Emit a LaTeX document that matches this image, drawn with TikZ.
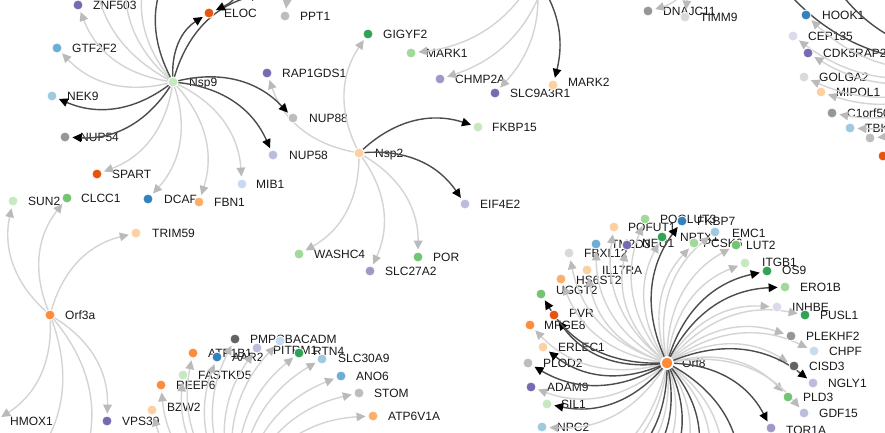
\documentclass[tikz,border=0pt]{standalone}
\usepackage{fontspec}
\setmainfont{Liberation Sans}
\usetikzlibrary{arrows.meta,calc}
\pgfdeclarelayer{back}
\pgfdeclarelayer{lab}
\pgfdeclarelayer{bg}
\pgfsetlayers{back,lab,bg,main}
\definecolor{pu1}{HTML}{756BB1}\definecolor{pu2}{HTML}{9E9AC8}\definecolor{pu3}{HTML}{BCBDDC}\definecolor{pu4}{HTML}{DADAEB}
\definecolor{bl1}{HTML}{3182BD}\definecolor{bl2}{HTML}{6BAED6}\definecolor{bl3}{HTML}{9ECAE1}\definecolor{bl4}{HTML}{C6DBEF}
\definecolor{or1}{HTML}{E6550D}\definecolor{or2}{HTML}{FD8D3C}\definecolor{or3}{HTML}{FDAE6B}\definecolor{or4}{HTML}{FDD0A2}
\definecolor{gr1}{HTML}{31A354}\definecolor{gr2}{HTML}{74C476}\definecolor{gr3}{HTML}{A1D99B}\definecolor{gr4}{HTML}{C7E9C0}
\definecolor{gy1}{HTML}{636363}\definecolor{gy2}{HTML}{969696}\definecolor{gy3}{HTML}{BDBDBD}\definecolor{gy4}{HTML}{D9D9D9}
\definecolor{edgegray}{HTML}{D4D4D4}\definecolor{arrgray}{HTML}{BABABA}\definecolor{edgeblack}{HTML}{4C4C4C}
\newcommand\gn[7]{\node[dot,fill=#4] (#1) at (#2,#3) {};\begin{pgfonlayer}{lab}\node[lbl] (#1-l) at (#6,{#7+4.3}) {#5};\end{pgfonlayer}}
\begin{document}
\begin{tikzpicture}[x=1pt,y=-1pt,
  dot/.style={circle,minimum size=10pt,inner sep=0pt,draw=white,line width=0.8pt},
  hub/.style={dot,minimum size=12pt,line width=1.5pt},
  lbl/.style={anchor=base west,inner sep=0pt,font=\fontsize{12}{14}\selectfont,text=black!90},
  ge/.style={draw=edgegray,line width=1.4pt,-{Triangle[length=9pt,width=8.5pt,color=arrgray]},shorten >=2pt,bend left=30},
  ke/.style={draw=edgeblack,line width=1.4pt,-{Triangle[length=9pt,width=8.5pt,color=black]},shorten >=2pt,bend left=30}]
\useasboundingbox (0,0) rectangle (885,432);
\begin{pgfonlayer}{back}
\fill[white] (0,0) rectangle (885,432);
\end{pgfonlayer}
% off-image end points
\coordinate (n9a) at (95,-40);\coordinate (n9b) at (130,-40);\coordinate (n9c) at (152,-40);
\coordinate (n9d) at (176,-40);\coordinate (n9e) at (262,-6);
\coordinate (topA) at (255,-60);\coordinate (topB) at (545,-45);\coordinate (topC) at (550,-40);
\coordinate (topD) at (530,-50);\coordinate (topE) at (520,-40);\coordinate (topF) at (250,-40);
\coordinate (topG) at (700,-40);\coordinate (topH) at (660,-45);
\coordinate (RH) at (985,60);\coordinate (rk1) at (770,-30);\coordinate (rk2) at (820,-40);
\coordinate (BH) at (240,500);
\coordinate (o3a1) at (25,470);\coordinate (o3a2) at (80,470);
\foreach \i/\x in {1/560,2/580,3/600,4/615,5/630,6/645,7/660,8/675,9/690,10/705,11/720,12/740}{\coordinate (ob\i) at (\x,480);}
% nodes: Nsp9 area
\gn{ZNF503}{78}{5}{pu1}{ZNF503}{93}{5}
\gn{ELOC}{209}{13}{or1}{ELOC}{224}{13}
\gn{GTF2F2}{57}{48}{bl2}{GTF2F2}{72}{48}
\gn{Nsp9}{173}{82}{gr4}{Nsp9}{189}{82}
\gn{RAP1GDS1}{267}{73}{pu1}{RAP1GDS1}{282}{73}
\gn{NEK9}{52}{96}{bl3}{NEK9}{67}{96}
\gn{NUP54}{65}{137}{gy2}{NUP54}{80}{137}
\gn{NUP88}{293}{118}{gy3}{NUP88}{309}{118}
\gn{NUP58}{273}{155}{pu3}{NUP58}{289}{155}
\gn{SPART}{97}{174}{or1}{SPART}{112}{174}
\gn{MIB1}{242}{184}{bl4}{MIB1}{256}{184}
\gn{CLCC1}{67}{198}{gr2}{CLCC1}{81}{198}
\gn{SUN2}{13}{201}{gr4}{SUN2}{28}{201}
\gn{DCAF}{148}{199}{bl1}{DCAF}{164}{199}
\gn{FBN1}{199}{202}{or3}{FBN1}{214}{202}
\gn{TRIM59}{136}{233}{or4}{TRIM59}{152}{233}
\gn{Orf3a}{50}{315}{or2}{Orf3a}{65}{315}
\gn{HMOX1}{-5}{421}{pu2}{HMOX1}{10}{421}
% top
\gn{PPT1}{285}{16}{gy3}{PPT1}{300}{16}
\gn{GIGYF2}{368}{34}{gr1}{GIGYF2}{383}{34}
\gn{MARK1}{411}{53}{gr3}{MARK1}{426}{53}
\gn{CHMP2A}{440}{79}{pu2}{CHMP2A}{455}{79}
\gn{SLC9A3R1}{495}{93}{pu1}{SLC9A3R1}{510}{93}
\gn{MARK2}{553}{85}{or4}{MARK2}{568}{82}
\gn{FKBP15}{478}{127}{gr4}{FKBP15}{492}{127}
\gn{Nsp2}{359}{153}{or4}{Nsp2}{375}{153}
\gn{EIF4E2}{465}{204}{pu3}{EIF4E2}{480}{204}
\gn{WASHC4}{299}{254}{gr3}{WASHC4}{314}{254}
\gn{POR}{418}{257}{gr2}{POR}{433}{257}
\gn{SLC27A2}{370}{271}{pu2}{SLC27A2}{385}{271}
% top right
\gn{DNAJC11}{648}{11}{gy2}{DNAJC11}{663}{11}
\gn{TIMM9}{685}{17}{gy4}{TIMM9}{700}{17}
\gn{HOOK1}{806}{15}{bl1}{HOOK1}{822}{15}
\gn{CEP135}{793}{36}{pu4}{CEP135}{808}{36}
\gn{CDK5RAP2}{808}{53}{pu1}{CDK5RAP2}{823}{53}
\gn{GOLGA2}{804}{77}{gy4}{GOLGA2}{819}{77}
\gn{MIPOL1}{821}{92}{or4}{MIPOL1}{836}{92}
\gn{C1orf50}{832}{113}{gy2}{C1orf50}{847}{113}
\gn{TBK1}{850}{128}{bl3}{TBK1}{865}{128}
\node[dot,fill=gy3] (RG1) at (870,138) {};
\node[dot,fill=or1] (RR1) at (883,156) {};
% bottom left
\gn{PMPCB}{235}{339}{gy1}{PMPCB}{250}{339}
\gn{ACADM}{280}{341}{bl4}{ACADM}{293}{339}
\gn{ATP1B1}{193}{353}{or2}{ATP1B1}{208}{353}
\gn{AAR2}{217}{357}{bl1}{AAR2}{232}{357}
\gn{PITRM1}{257}{348}{pu3}{PITRM1}{273}{350}
\gn{RTN4}{299}{353}{gr1}{RTN4}{313}{351}
\gn{SLC30A9}{322}{359}{bl3}{SLC30A9}{338}{358}
\gn{FASTKD5}{183}{375}{gr4}{FASTKD5}{198}{375}
\gn{ANO6}{341}{376}{bl2}{ANO6}{356}{376}
\gn{REEP6}{161}{385}{or2}{REEP6}{176}{385}
\gn{STOM}{359}{393}{gy3}{STOM}{374}{393}
\gn{BZW2}{152}{410}{or4}{BZW2}{167}{407}
\gn{VPS39}{107}{421}{pu1}{VPS39}{122}{421}
\gn{ATP6V1A}{373}{416}{or3}{ATP6V1A}{388}{416}
% Orf8 cluster
\node[hub,fill=or2] (Orf8) at (667,363) {};
\begin{pgfonlayer}{lab}\node[lbl] (Orf8-l) at (682,367.3) {Orf8};\end{pgfonlayer}
\gn{PVR}{554}{315}{or1}{PVR}{569}{313}
\gn{UGGT2}{541}{294}{gr2}{UGGT2}{556}{290}
\gn{HS6ST2}{561}{279}{or3}{HS6ST2}{576}{280}
\gn{IL17RA}{587}{270}{or4}{IL17RA}{602}{270}
\gn{FBXL12}{569}{253}{gy4}{FBXL12}{584}{253}
\gn{TM2D3}{596}{244}{bl2}{TM2D3}{611}{244}
\gn{NEU1}{627}{245}{pu1}{NEU1}{642}{243}
\gn{POFUT1}{614}{227}{or4}{POFUT1}{628}{227}
\gn{POGLUT3}{645}{219}{gr3}{POGLUT3}{660}{219}
\gn{FKBP7}{682}{221}{bl1}{FKBP7}{697}{221}
\gn{NPTX1}{662}{237}{gr1}{NPTX1}{680}{237}
\gn{PCSK6}{694}{243}{gr3}{PCSK6}{703}{243}
\gn{EMC1}{715}{232}{bl3}{EMC1}{732}{233}
\gn{LUT2}{736}{245}{gr2}{LUT2}{746}{245}
\gn{ITGB1}{745}{263}{gr4}{ITGB1}{762}{262}
\gn{OS9}{767}{271}{gr1}{OS9}{782}{270}
\gn{ERO1B}{785}{287}{gr3}{ERO1B}{800}{287}
\gn{INHBE}{777}{307}{pu4}{INHBE}{792}{307}
\gn{PUSL1}{805}{315}{gr1}{PUSL1}{820}{315}
\gn{PLEKHF2}{791}{336}{gy2}{PLEKHF2}{806}{336}
\gn{CHPF}{814}{351}{bl4}{CHPF}{829}{351}
\gn{CISD3}{794}{366}{gy1}{CISD3}{809}{366}
\gn{NGLY1}{813}{383}{pu3}{NGLY1}{828}{383}
\gn{PLD3}{788}{397}{gr2}{PLD3}{803}{397}
\gn{GDF15}{804}{413}{pu3}{GDF15}{819}{413}
\gn{TOR1A}{771}{428}{pu2}{TOR1A}{786}{430}
\gn{MFGE8}{530}{325}{or2}{MFGE8}{544}{325}
\gn{ERLEC1}{543}{347}{or4}{ERLEC1}{558}{347}
\gn{PLOD2}{528}{363}{gy3}{PLOD2}{543}{363}
\gn{ADAM9}{531}{387}{pu1}{ADAM9}{547}{387}
\gn{SIL1}{547}{404}{gr4}{SIL1}{561}{404}
\gn{NPC2}{542}{427}{bl3}{NPC2}{557}{427}
% edges
\begin{pgfonlayer}{bg}
\clip (0,0) rectangle (885,432);
\foreach \t in {ZNF503,GTF2F2,SPART,DCAF,FBN1,MIB1,n9a,n9b,n9c} \draw[ge] (Nsp9) to (\t);
\foreach \t in {GIGYF2,RAP1GDS1,WASHC4,SLC27A2,POR} \draw[ge] (Nsp2) to (\t);
\draw[ge] (topA) to (PPT1);\draw[ge] (topB) to (MARK1);\draw[ge] (topC) to (CHMP2A);
\draw[ge] (topD) to (SLC9A3R1);\draw[ge] (topG) to (DNAJC11);\draw[ge] (topH) to (TIMM9);
\foreach \t in {HOOK1,CEP135,CDK5RAP2,GOLGA2,MIPOL1,C1orf50,TBK1,RG1,RR1} \draw[ge] (RH) to (\t);
\foreach \t in {REEP6,FASTKD5,ATP1B1,AAR2,PMPCB,PITRM1,ACADM,RTN4,SLC30A9,ANO6,STOM,ATP6V1A,BZW2} \draw[ge] (BH) to (\t);
\foreach \t in {SUN2,CLCC1,TRIM59,HMOX1,VPS39,o3a1,o3a2} \draw[ge] (Orf3a) to (\t);
\foreach \t in {MFGE8,ADAM9,NPC2,HS6ST2,IL17RA,FBXL12,TM2D3,NEU1,POFUT1,POGLUT3,NPTX1,PCSK6,EMC1,LUT2,ITGB1,INHBE,PUSL1,PLEKHF2,CHPF,CISD3,PLD3,GDF15,ob1,ob2,ob4,ob6,ob8,ob10,ob11} \draw[ge] (Orf8) to (\t);
\foreach \t in {NEK9,NUP54,NUP88,NUP58,ELOC,n9d,n9e} \draw[ke] (Nsp9) to (\t);
\foreach \t in {FKBP15,EIF4E2} \draw[ke] (Nsp2) to (\t);
\draw[ke] (topE) to (MARK2);\draw[ke] (topF) to (ELOC);
\draw[ke] (RH) to (rk1);\draw[ke] (RH) to (rk2);
\foreach \t in {PVR,ERLEC1,PLOD2,SIL1,UGGT2,FKBP7,OS9,ERO1B,NGLY1,TOR1A,ob3,ob5,ob7,ob9,ob12} \draw[ke] (Orf8) to (\t);
\end{pgfonlayer}
\end{tikzpicture}
\end{document}
